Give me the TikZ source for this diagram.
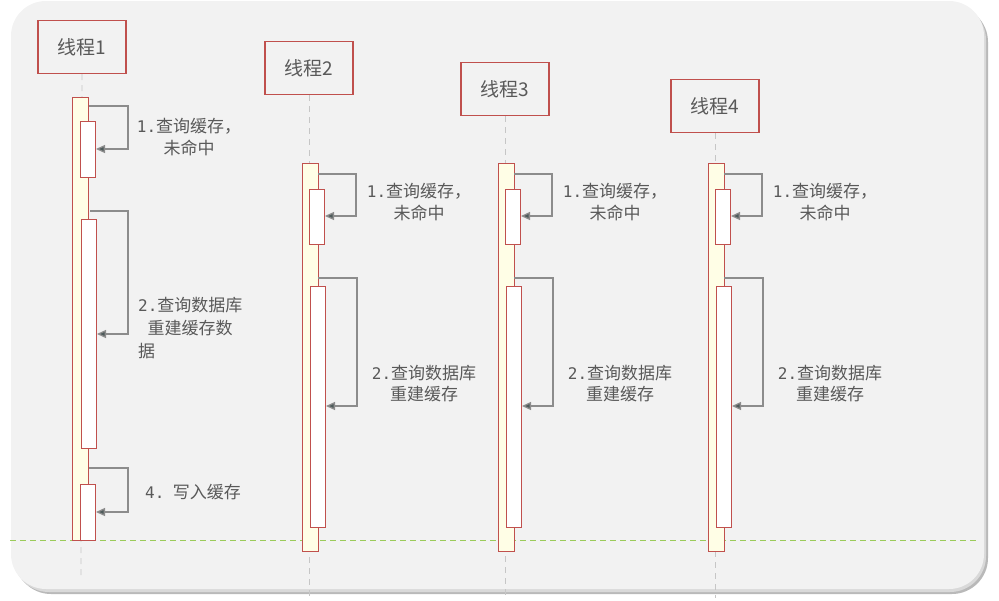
\documentclass[tikz,border=0pt]{standalone}
\usepackage{fontspec}
\setmainfont{Noto Sans CJK SC}
\newfontfamily\digf{DejaVu Sans Mono}
\usetikzlibrary{arrows.meta}
\definecolor{bgc}{HTML}{F2F2F2}
\definecolor{redb}{HTML}{C0504D}
\definecolor{actc}{HTML}{FFFEE6}
\definecolor{txtc}{HTML}{595959}
\definecolor{arrc}{HTML}{8C8C8C}
\definecolor{tipc}{HTML}{4D5A5A}
\definecolor{grn}{HTML}{9BCB5A}
\newcommand{\dg}[1]{{\digf\fontsize{16}{21}\selectfont #1}}
\tikzset{
  hdr/.style={draw=redb,line width=1.1pt,fill=bgc,minimum width=88pt,minimum height=53pt,inner sep=0pt,text=txtc,font=\fontsize{19}{22}\selectfont},
  outerbox/.style={draw=redb,line width=1pt,fill=actc,anchor=north west,inner sep=0pt,minimum width=16pt},
  innerbox/.style={draw=redb,line width=1pt,fill=white,anchor=north west,inner sep=0pt,minimum width=15pt},
  life/.style={draw=gray!45,dashed,dash pattern=on 6pt off 5pt,line width=0.8pt},
  msg/.style={draw=arrc,line width=1.3pt,-{Triangle[length=9pt,width=8pt,fill=tipc]}},
  lbl/.style={text=txtc,font=\fontsize{17}{21.5}\selectfont,inner sep=0pt,align=center},
}
\begin{document}
\begin{tikzpicture}[x=1pt,y=-1pt]
\useasboundingbox (0,0) rectangle (999,600);
% background with shadow
\fill[gray!55,rounded corners=36pt] (15,6) rectangle (988,594);
\fill[gray!30,rounded corners=36pt] (13,4) rectangle (986,592);
\fill[bgc,rounded corners=35pt] (11,1) rectangle (984,589);
\draw[grn,line width=1pt,dash pattern=on 6pt off 4pt] (10,540) -- (978,540);

% ---------------- Thread 1
\node[hdr] (h1) at (82,47) {线程1};
\coordinate (e1) at (81,576);
\draw[life] (h1.south) -- (e1);
\node[outerbox,minimum height=443pt] (o1) at (72,97) {};
\node[innerbox,minimum height=56pt] (a1) at (80,121) {};
\node[innerbox,minimum height=229pt] (b1) at (81,219) {};
\node[innerbox,minimum height=56pt] (c1) at (80,484) {};
\draw[msg] (89,106) -- (128,106) -- (128,149) -- (a1.east |- 0,149);
\draw[msg] (90,211) -- (128,211) -- (128,334) -- (b1.east |- 0,334);
\draw[msg] (89,468) -- (128,468) -- (128,512) -- (c1.east |- 0,512);
\node[lbl,anchor=north] (t11) at (189,118.5) {\dg{1.}查询缓存，\\未命中};
\node[lbl,anchor=north west,align=left,font=\fontsize{17}{23}\selectfont] (t12) at (138,296.5) {\dg{2.}查询数据库\\\hspace{0.55em}重建缓存数\\据};
\node[lbl,anchor=west] (t14) at (145,492) {\dg{4.}\hspace{0.5em}写入缓存};

% ---------------- Threads 2-4
\foreach \i/\ox/\hc/\hy in {2/302/309/41, 3/498/505/62, 4/708/715/79}{
  \node[hdr,anchor=north] (h\i) at (\hc,\hy) {线程\i};
  \coordinate (e\i) at (\hc,598);
  \draw[life] (h\i.south) -- (e\i);
  \node[outerbox,minimum height=388pt] (o\i) at (\ox,163) {};
  \node[innerbox,minimum height=55pt] (a\i) at (\ox+7,189) {};
  \node[innerbox,minimum height=241pt] (b\i) at (\ox+8,286) {};
  \draw[msg] (\ox+16,174) -- (\ox+54,174) -- (\ox+54,216) -- (a\i.east |- 0,216);
  \draw[msg] (\ox+16,278) -- (\ox+55,278) -- (\ox+55,406) -- (b\i.east |- 0,406);
  \node[lbl,anchor=north] (t\i1) at (\ox+117,183.5) {\dg{1.}查询缓存，\\未命中};
  \node[lbl,anchor=north] (t\i2) at (\ox+122,364.5) {\dg{2.}查询数据库\\重建缓存};
}
\end{tikzpicture}
\end{document}
